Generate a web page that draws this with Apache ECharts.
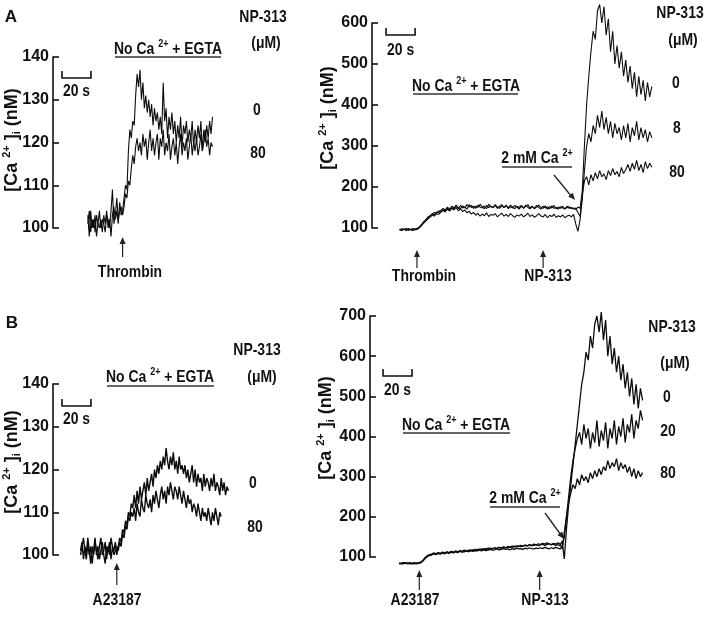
<!DOCTYPE html>
<html><head><meta charset="utf-8">
<script src="https://cdn.jsdelivr.net/npm/echarts@6/dist/echarts.min.js"></script>
<style>html,body{margin:0;padding:0;background:#fff}#c{width:709px;height:618px}</style>
</head><body><div id="c"></div>
<script>
// ---------- DATA (values in nM, time in s) ----------
// Panel A, left: thrombin, no external Ca2+ (sampled every 1 s from t=24 s)
const aLeftT0 = 24, aLeftDt = 1;
const aLeft_0 = [103,98,104,100,102,99,103,101,100,102,99,103,101,104,100,102,98,103,105,102,104,101,106,103,
 104,107,110,109,118,123,121,125,124,131,136,133,137,130,134,128,131,127,130,126,129,124,128,125,127,123,126,122,134,125,128,121,126,123,127,122,125,120,124,121,126,119,124,122,125,120,123,121,125,119,123,120,124,121,125,118,123,120,124,121,125,122,126];
const aLeft_80 = [101,104,99,102,100,103,98,101,104,100,102,101,99,103,102,100,104,109,101,103,107,102,104,105,
 103,105,108,107,111,110,114,117,115,119,121,118,120,117,122,119,121,116,120,123,118,121,117,120,122,116,121,119,123,117,120,118,122,116,119,121,117,120,115,119,122,117,120,118,121,116,119,122,117,120,118,121,117,119,122,118,120,123,119,121,117,120,119];
// Panel A, right: thrombin then 2 mM Ca2+ (every 1.5 s from t=19 s)
const aRightT0 = 19, aRightDt = 1.5;
const aRight_0 = [97,95,98,94,97,96,99,95,98,
 102,108,113,120,124,130,133,138,136,142,140,
 145,141,148,143,150,146,152,147,155,149,151,146,157,150,153,148,156,151,149,154,147,158,152,150,155,148,153,157,150,154,149,156,151,147,153,150,155,148,152,157,149,153,147,151,156,150,148,154,146,152,149,155,147,151,148,153,146,150,152,147,149,145,151,148,
 190,300,400,470,530,580,560,630,645,600,640,570,610,530,580,500,545,490,530,470,510,455,495,440,480,420,470,425,460,410,455,420,445];
const aRight_8 = [95,98,96,99,94,97,95,98,96,
 100,105,111,117,122,126,131,129,135,133,138,
 143,139,146,141,148,144,150,142,147,140,144,137,141,134,138,131,136,129,134,130,137,128,133,131,135,127,132,136,129,133,128,135,130,126,132,129,134,127,131,136,128,132,126,130,135,129,127,133,125,131,128,134,126,130,127,132,125,129,131,127,133,110,92,120,
 170,240,300,330,310,350,330,375,345,385,340,370,330,360,320,355,330,345,315,350,320,355,310,345,325,360,315,345,320,340,310,335,320];
const aRight_80 = [96,94,97,95,99,96,94,97,99,
 101,106,115,119,127,129,135,132,139,137,143,
 148,144,151,146,153,149,156,150,147,154,149,157,151,155,148,153,150,158,152,147,155,150,153,149,157,151,148,154,150,156,147,152,149,155,151,146,153,149,156,150,147,152,148,155,150,146,153,149,151,147,154,148,150,146,152,149,147,153,148,150,146,149,138,128,
 180,215,225,205,230,215,235,220,240,225,232,218,240,228,245,230,238,225,248,233,242,255,238,258,243,265,240,255,235,262,245,258,248];
// Panel B, left: A23187, no external Ca2+ (every 1 s from t=19 s)
const bLeftT0 = 19, bLeftDt = 1;
const bLeft_0 = [101,103,99,102,100,104,101,98,102,100,103,101,99,102,104,100,101,103,99,102,100,104,102,101,103,100,
 102,104,103,106,105,108,107,110,109,112,111,
 114,111,115,112,116,113,115,117,114,118,115,117,119,116,120,118,121,119,122,
 120,123,121,125,122,120,123,121,124,120,122,119,123,120,121,119,
 121,118,120,117,119,121,117,120,116,119,117,118,115,119,116,118,117,115,118,116,119,115,117,116,114,118,115,117,114,116,115];
const bLeft_80 = [100,102,104,101,99,103,100,102,98,101,104,100,102,99,101,103,100,98,102,101,103,99,102,100,101,102,
 101,103,102,105,104,107,106,109,108,110,109,
 111,108,112,110,109,113,111,110,114,112,111,113,110,114,112,115,113,111,114,116,113,115,112,116,114,117,115,113,116,115,
 113,116,114,112,115,113,111,114,112,113,110,112,111,109,112,110,108,111,109,110,108,111,109,107,110,108,111,109,107,110,109];
// Panel B, right: A23187 then 2 mM Ca2+ (every 1.5 s from t=20 s)
const bRightT0 = 20, bRightDt = 1.5;
const bRight_0 = [84,85,83,86,84,85,83,85,84,86,
 87,92,98,103,106,
 107,110,108,111,109,112,110,113,111,114,112,115,113,116,114,117,115,116,118,116,119,117,120,118,121,119,122,120,121,123,121,124,122,125,123,124,126,124,127,125,128,126,127,129,127,130,128,129,131,128,130,132,129,131,133,130,132,129,131,128,
 140,95,170,230,280,330,380,430,
 480,530,560,610,590,650,620,680,700,660,710,640,690,600,650,580,620,560,600,540,580,520,560,500,545,480,530,470,520,490];
const bRight_20 = [85,83,84,85,83,86,84,83,85,84,
 86,90,96,101,104,
 105,108,106,109,107,110,108,111,109,112,110,113,111,114,112,113,115,113,116,114,116,115,117,115,118,116,117,119,117,118,120,118,119,121,119,120,118,121,119,122,120,121,119,122,120,123,121,120,122,121,123,121,124,122,120,123,121,124,122,120,
 125,150,200,250,300,340,370,395,
 410,380,430,395,420,370,410,385,440,375,415,390,435,370,420,395,440,380,425,400,445,385,430,410,455,395,440,420,465,440];
const bRight_80 = [83,84,86,84,85,83,84,86,83,85,
 86,91,97,102,105,
 106,109,107,110,108,111,109,112,110,113,111,114,112,115,113,116,114,117,115,118,116,119,117,120,118,121,119,122,120,123,121,124,122,125,123,126,124,127,125,128,126,129,127,130,128,131,129,132,130,133,131,134,132,135,133,131,134,132,135,133,
 120,160,200,235,260,280,270,295,
 280,305,290,300,285,310,295,315,300,320,305,325,315,340,320,335,325,345,315,335,320,330,310,325,300,320,295,315,300,310];
// y-axis ticks (nM)
const yTicksA1 = [100,110,120,130,140];
const yTicksA2 = [100,200,300,400,500,600];
const yTicksB1 = [100,110,120,130,140];
const yTicksB2 = [100,200,300,400,500,600,700];
// stimulus times (s) and labels
const stimA1 = [48], stimA1Labels = ['Thrombin'];
const stimA2 = [31,118], stimA2Labels = ['Thrombin','NP-313'];
const stimB1 = [44], stimB1Labels = ['A23187'];
const stimB2 = [34,117], stimB2Labels = ['A23187','NP-313'];
const doseA1 = ['0','80'], doseA2 = ['0','8','80'], doseB1 = ['0','80'], doseB2 = ['0','20','80'];
const scaleBarSec = 20;

// ---------- CHART ----------
const FONT = "'Liberation Sans',Arial,Helvetica,sans-serif";
const chart = echarts.init(document.getElementById('c'), null, {renderer:'canvas'});
const grids = [
  {left:53, top:57, width:174, height:171},
  {left:372, top:23, width:290, height:205},
  {left:53, top:384, width:174, height:171},
  {left:370, top:316, width:290, height:241}
];
const xMax = [120,200,120,200];
const traceW = [1.1,1.1,1.4,1.3];
const yT = [yTicksA1,yTicksA2,yTicksB1,yTicksB2];
function yAx(i){
  const t = yT[i];
  return {type:'value', gridIndex:i, min:t[0], max:t[t.length-1], interval:t[1]-t[0],
    axisLine:{show:true,onZero:false,lineStyle:{color:'#111',width:1.6}},
    axisTick:{show:true,inside:true,length:6,lineStyle:{color:'#111',width:1.6}},
    axisLabel:{color:'#111',fontFamily:FONT,fontWeight:'bold',fontSize:16,margin:4},
    splitLine:{show:false}};
}
function mk(vals,t0,dt){ return vals.map((v,i)=>[+(t0+i*dt).toFixed(3), v]); }
function ser(g,vals,t0,dt){
  return {type:'line', xAxisIndex:g, yAxisIndex:g, data:mk(vals,t0,dt), showSymbol:false, symbol:'none',
    lineStyle:{color:'#0d0d0d',width:traceW[g]}, clip:false, animation:false, silent:true};
}
chart.setOption({
  animation:false,
  grid: grids,
  xAxis: grids.map((g,i)=>({type:'value',gridIndex:i,min:0,max:xMax[i],show:false})),
  yAxis: [0,1,2,3].map(yAx),
  series: [
    ser(0,aLeft_0,aLeftT0,aLeftDt), ser(0,aLeft_80,aLeftT0,aLeftDt),
    ser(1,aRight_0,aRightT0,aRightDt), ser(1,aRight_8,aRightT0,aRightDt), ser(1,aRight_80,aRightT0,aRightDt),
    ser(2,bLeft_0,bLeftT0,bLeftDt), ser(2,bLeft_80,bLeftT0,bLeftDt),
    ser(3,bRight_0,bRightT0,bRightDt), ser(3,bRight_20,bRightT0,bRightDt), ser(3,bRight_80,bRightT0,bRightDt)
  ]
});

// ---------- ANNOTATIONS ----------
const G = [];
const bold = (fs)=>({fontFamily:FONT,fontWeight:'bold',fontSize:fs,fill:'#111'});
const richStd = {n:bold(17), s:Object.assign(bold(11),{padding:[0,0,10,0]}), b:Object.assign(bold(11),{padding:[9,0,0,0]})};
const richName = {n:bold(18), s:Object.assign(bold(11),{padding:[0,0,10,0]}), b:Object.assign(bold(11),{padding:[10,0,0,0]})};
function txt(x,y,text,opt){
  opt=opt||{};
  const sx = opt.sx!=null?opt.sx:0.82;
  G.push({type:'text', x:x, y:y, rotation:opt.rot||0, scaleX:sx, silent:true,
    style:{text:text, rich:opt.rich||richStd, fontFamily:FONT, fontWeight:'bold', fontSize:opt.fs||17, fill:'#111',
      align:'center', verticalAlign:'middle', textAlign:'center', textVerticalAlign:'middle'}});
}
function line(x1,y1,x2,y2,c,w){ G.push({type:'line',silent:true,shape:{x1,y1,x2,y2},style:{stroke:c||'#111',lineWidth:w||1}}); }
function head(x,y,dx,dy){ // arrow tip at (x,y), pointing along (dx,dy)
  const L=Math.hypot(dx,dy), ux=dx/L, uy=dy/L, px=-uy, py=ux, len=7, hw=3;
  G.push({type:'polygon',silent:true,shape:{points:[[x,y],[x-ux*len+px*hw,y-uy*len+py*hw],[x-ux*len-px*hw,y-uy*len-py*hw]]},style:{fill:'#222'}});
}
function xPix(g,t){ return chart.convertToPixel({xAxisIndex:g}, t); }
function stim(g,times,labels,yb,yt,ty,lx){
  times.forEach((t,i)=>{
    const x = xPix(g,t);
    line(x,yb,x,yt+3,'#222',1.2); head(x,yt,0,-1);
    txt(lx&&lx[i]!=null?lx[i]:x+6, ty, labels[i]);
  });
}
function bar(g,t0,y,ty){
  const x1=xPix(g,t0), x2=xPix(g,t0+scaleBarSec);
  G.push({type:'polyline',silent:true,shape:{points:[[x1,y-7],[x1,y],[x2,y],[x2,y-7]]},style:{stroke:'#111',lineWidth:1.6,fill:null}});
  txt((x1+x2)/2, ty, scaleBarSec+' s');
}
function label(x,y,text,x1,x2,uy){ txt(x,y,text); line(x1,uy,x2,uy,'#666',2); }
const yName = '{n|[Ca }{s|2+}{n| ]}{b|i}{n| (nM)}';
const nameOpt = {rot:Math.PI/2, sx:1, rich:richName};
// A left
txt(11,17,'A',{sx:1});
txt(12,140,yName,nameOpt);
label(168,49,'{n|No Ca }{s|2+}{n| + EGTA}',115,221,57);
bar(0,6.2,78,91);
stim(0,stimA1,stimA1Labels,257,237,272,[130]);
txt(263,17,'NP-313'); txt(266,43,'(μM)');
txt(257,110,doseA1[0]); txt(258,153,doseA1[1]);
// A right
txt(328,118,yName,nameOpt);
bar(1,9.7,35,50);
label(466,86,'{n|No Ca }{s|2+}{n| + EGTA}',413,518,94);
label(537,158,'{n|2 mM Ca }{s|2+}',502,572,167);
line(554,175,572,197,'#222',1.3); head(575,200,21,25);
stim(1,stimA2,stimA2Labels,268,250,276,[424,548]);
txt(680,13,'NP-313'); txt(683,40,'(μM)');
txt(676,83,doseA2[0]); txt(677,128,doseA2[1]); txt(677,172,doseA2[2]);
// B left
txt(12,323,'B',{sx:1});
txt(12,462,yName,nameOpt);
label(160,377,'{n|No Ca }{s|2+}{n| + EGTA}',107,214,386);
bar(2,6.2,406,419);
stim(2,stimB1,stimB1Labels,585,563,600,[117]);
txt(257,350,'NP-313'); txt(262,377,'(μM)');
txt(253,483,doseB1[0]); txt(255,527,doseB1[1]);
// B right
txt(326,428,yName,nameOpt);
bar(3,9,376,390);
label(456,425,'{n|No Ca }{s|2+}{n| + EGTA}',403,510,433);
label(525,498,'{n|2 mM Ca }{s|2+}',490,560,507);
line(545,513,561,535,'#222',1.3); head(564,539,19,26);
stim(3,stimB2,stimB2Labels,590,570,600,[415,545]);
txt(672,327,'NP-313'); txt(675,363,'(μM)');
txt(667,397,doseB2[0]); txt(668,431,doseB2[1]); txt(668,473,doseB2[2]);

chart.setOption({graphic:{elements:G}});
</script></body></html>
